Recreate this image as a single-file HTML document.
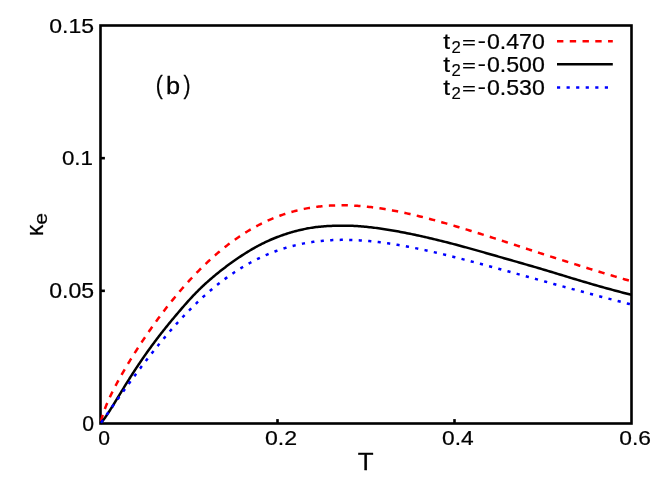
<!DOCTYPE html>
<html lang="en">
<head>
<meta charset="utf-8">
<title>Thermal conductivity vs temperature</title>
<style>
html,body{margin:0;padding:0;background:#fff;}
body{width:664px;height:498px;overflow:hidden;font-family:"Liberation Sans",sans-serif;}
svg{display:block;}
svg text{font-family:"Liberation Sans",sans-serif;font-size:20px;fill:#000;stroke:#000;stroke-width:0.22px;stroke-linejoin:round;}
</style>
</head>
<body>
<svg width="664" height="498" viewBox="0 0 664 498">
<rect x="0" y="0" width="664" height="498" fill="#fff"/>
<rect x="100.50" y="25.50" width="531.00" height="398.00" fill="none" stroke="#000" stroke-width="2.6" stroke-linejoin="miter"/>
<g stroke="#000" stroke-width="2.6" fill="none" stroke-linecap="butt">
<line x1="277.50" y1="423.50" x2="277.50" y2="419.10"/>
<line x1="454.50" y1="423.50" x2="454.50" y2="419.10"/>
<line x1="100.50" y1="290.83" x2="104.90" y2="290.83"/>
<line x1="100.50" y1="158.17" x2="104.90" y2="158.17"/>
</g>
<g fill="none" stroke-linejoin="round" stroke-linecap="butt" stroke-width="2.5">
<path stroke="#ff0000" stroke-dasharray="6.34 6.34" stroke-dashoffset="-2.515" d="M100.50 423.50 L100.50 423.49 L100.51 423.46 L100.52 423.41 L100.53 423.35 L100.55 423.26 L100.58 423.16 L100.60 423.03 L100.64 422.89 L100.67 422.73 L100.71 422.56 L100.76 422.37 L100.81 422.16 L100.86 421.93 L100.92 421.69 L100.98 421.43 L101.05 421.16 L101.12 420.88 L101.19 420.58 L101.27 420.27 L101.35 419.95 L101.44 419.61 L101.53 419.26 L101.63 418.90 L101.73 418.54 L101.83 418.16 L101.94 417.77 L102.05 417.37 L102.17 416.97 L102.29 416.55 L102.42 416.13 L102.55 415.70 L102.68 415.26 L102.82 414.82 L102.97 414.37 L103.11 413.91 L103.26 413.44 L103.42 412.97 L103.58 412.50 L103.74 412.02 L103.91 411.53 L104.08 411.04 L104.26 410.54 L104.44 410.04 L104.63 409.54 L104.82 409.03 L105.01 408.51 L105.21 407.99 L105.41 407.47 L105.62 406.94 L105.83 406.40 L106.05 405.87 L106.27 405.32 L106.49 404.78 L106.72 404.23 L106.95 403.67 L107.19 403.12 L107.43 402.55 L107.67 401.99 L107.92 401.42 L108.18 400.84 L108.44 400.26 L108.70 399.68 L108.96 399.09 L109.23 398.50 L109.51 397.90 L109.79 397.30 L110.07 396.70 L110.36 396.09 L110.65 395.48 L110.95 394.86 L111.25 394.24 L111.55 393.62 L111.86 392.99 L112.18 392.35 L112.50 391.72 L112.82 391.07 L113.14 390.43 L113.47 389.78 L113.81 389.12 L114.15 388.46 L114.49 387.80 L114.84 387.13 L115.19 386.46 L115.55 385.78 L115.91 385.10 L116.27 384.41 L116.64 383.72 L117.01 383.03 L117.39 382.33 L117.77 381.63 L118.16 380.92 L118.55 380.21 L118.94 379.49 L119.34 378.77 L119.75 378.05 L120.15 377.32 L120.56 376.59 L120.98 375.85 L121.40 375.11 L121.83 374.36 L122.25 373.61 L122.69 372.85 L123.12 372.10 L123.57 371.33 L124.01 370.57 L124.46 369.79 L124.92 369.02 L125.37 368.24 L125.84 367.45 L126.30 366.67 L126.77 365.87 L127.25 365.08 L127.73 364.28 L128.21 363.47 L128.70 362.67 L129.20 361.85 L129.69 361.04 L130.19 360.22 L130.70 359.40 L131.21 358.57 L131.72 357.74 L132.24 356.90 L132.76 356.06 L133.29 355.22 L133.82 354.38 L134.36 353.53 L134.90 352.67 L135.44 351.82 L135.99 350.96 L136.54 350.10 L137.10 349.23 L137.66 348.36 L138.22 347.49 L138.79 346.61 L139.37 345.73 L139.94 344.85 L140.53 343.96 L141.11 343.07 L141.70 342.18 L142.30 341.29 L142.90 340.39 L143.50 339.49 L144.11 338.58 L144.72 337.68 L145.34 336.77 L145.96 335.86 L146.58 334.94 L147.21 334.03 L147.84 333.11 L148.48 332.19 L149.12 331.26 L149.77 330.34 L150.42 329.41 L151.07 328.48 L151.73 327.54 L152.40 326.61 L153.06 325.67 L153.74 324.73 L154.41 323.79 L155.09 322.85 L155.78 321.91 L156.47 320.96 L157.16 320.01 L157.86 319.06 L158.56 318.11 L159.26 317.16 L159.97 316.21 L160.69 315.25 L161.41 314.30 L162.13 313.34 L162.86 312.38 L163.59 311.42 L164.32 310.46 L165.06 309.50 L165.81 308.54 L166.56 307.58 L167.31 306.61 L168.07 305.65 L168.83 304.68 L169.59 303.72 L170.36 302.75 L171.14 301.79 L171.92 300.82 L172.70 299.86 L173.49 298.89 L174.28 297.93 L175.07 296.96 L175.87 296.00 L176.68 295.03 L177.48 294.07 L178.30 293.10 L179.11 292.14 L179.93 291.18 L180.76 290.22 L181.59 289.26 L182.42 288.30 L183.26 287.34 L184.10 286.38 L184.95 285.42 L185.80 284.47 L186.66 283.51 L187.52 282.56 L188.38 281.61 L189.25 280.66 L190.12 279.71 L191.00 278.76 L191.88 277.82 L192.76 276.88 L193.65 275.94 L194.54 275.00 L195.44 274.07 L196.34 273.13 L197.25 272.20 L198.16 271.27 L199.08 270.35 L199.99 269.43 L200.92 268.51 L201.85 267.59 L202.78 266.68 L203.71 265.77 L204.65 264.86 L205.60 263.96 L206.55 263.06 L207.50 262.16 L208.46 261.27 L209.42 260.38 L210.39 259.49 L211.36 258.61 L212.33 257.73 L213.31 256.86 L214.29 255.99 L215.28 255.13 L216.27 254.27 L217.27 253.41 L218.27 252.56 L219.27 251.72 L220.28 250.87 L221.29 250.04 L222.31 249.21 L223.33 248.38 L224.36 247.56 L225.39 246.75 L226.42 245.94 L227.46 245.13 L228.50 244.33 L229.55 243.54 L230.60 242.75 L231.66 241.97 L232.72 241.20 L233.78 240.43 L234.85 239.67 L235.92 238.91 L237.00 238.16 L238.08 237.42 L239.17 236.68 L240.26 235.95 L241.35 235.23 L242.45 234.51 L243.55 233.80 L244.66 233.10 L245.77 232.40 L246.88 231.72 L248.00 231.03 L249.13 230.36 L250.26 229.70 L251.39 229.04 L252.53 228.39 L253.67 227.75 L254.81 227.11 L255.96 226.48 L257.11 225.86 L258.27 225.25 L259.43 224.65 L260.60 224.06 L261.77 223.47 L262.95 222.89 L264.13 222.32 L265.31 221.76 L266.50 221.21 L267.69 220.66 L268.89 220.13 L270.09 219.60 L271.29 219.09 L272.50 218.58 L273.71 218.08 L274.93 217.59 L276.15 217.10 L277.38 216.63 L278.61 216.17 L279.85 215.71 L281.08 215.27 L282.33 214.83 L283.57 214.41 L284.83 213.99 L286.08 213.58 L287.34 213.19 L288.61 212.80 L289.88 212.42 L291.15 212.05 L292.43 211.69 L293.71 211.34 L294.99 211.00 L296.28 210.67 L297.58 210.35 L298.88 210.04 L300.18 209.73 L301.49 209.44 L302.80 209.16 L304.12 208.89 L305.44 208.63 L306.76 208.38 L308.09 208.13 L309.42 207.90 L310.76 207.68 L312.10 207.47 L313.45 207.26 L314.79 207.07 L316.15 206.89 L317.51 206.72 L318.87 206.55 L320.24 206.40 L321.61 206.26 L322.98 206.12 L324.36 206.00 L325.75 205.89 L327.14 205.78 L328.53 205.69 L329.93 205.61 L331.33 205.53 L332.73 205.47 L334.14 205.41 L335.56 205.37 L336.97 205.33 L338.40 205.31 L339.82 205.29 L341.25 205.28 L342.69 205.29 L344.13 205.30 L345.57 205.32 L347.02 205.35 L348.47 205.39 L349.93 205.44 L351.39 205.50 L352.85 205.57 L354.32 205.65 L355.80 205.74 L357.27 205.83 L358.76 205.94 L360.24 206.05 L361.73 206.18 L363.23 206.31 L364.73 206.45 L366.23 206.60 L367.74 206.76 L369.25 206.93 L370.77 207.10 L372.29 207.29 L373.81 207.48 L375.34 207.68 L376.87 207.89 L378.41 208.11 L379.95 208.33 L381.50 208.57 L383.05 208.81 L384.61 209.06 L386.16 209.32 L387.73 209.58 L389.29 209.86 L390.87 210.14 L392.44 210.43 L394.02 210.72 L395.61 211.03 L397.20 211.34 L398.79 211.66 L400.39 211.98 L401.99 212.31 L403.59 212.65 L405.20 213.00 L406.82 213.35 L408.44 213.71 L410.06 214.08 L411.69 214.45 L413.32 214.83 L414.95 215.22 L416.59 215.61 L418.24 216.01 L419.89 216.42 L421.54 216.83 L423.20 217.24 L424.86 217.67 L426.52 218.10 L428.19 218.53 L429.87 218.97 L431.54 219.42 L433.23 219.87 L434.91 220.32 L436.60 220.79 L438.30 221.25 L440.00 221.72 L441.70 222.20 L443.41 222.68 L445.12 223.17 L446.84 223.66 L448.56 224.16 L450.29 224.66 L452.02 225.16 L453.75 225.67 L455.49 226.19 L457.23 226.71 L458.98 227.23 L460.73 227.76 L462.48 228.29 L464.24 228.82 L466.01 229.36 L467.77 229.90 L469.55 230.45 L471.32 230.99 L473.10 231.55 L474.89 232.10 L476.68 232.66 L478.47 233.22 L480.27 233.79 L482.07 234.36 L483.88 234.93 L485.69 235.50 L487.50 236.08 L489.32 236.66 L491.14 237.24 L492.97 237.83 L494.80 238.42 L496.64 239.00 L498.48 239.60 L500.32 240.19 L502.17 240.79 L504.03 241.39 L505.88 241.99 L507.75 242.59 L509.61 243.20 L511.48 243.80 L513.36 244.41 L515.23 245.02 L517.12 245.63 L519.01 246.25 L520.90 246.86 L522.79 247.48 L524.69 248.09 L526.60 248.71 L528.51 249.33 L530.42 249.95 L532.34 250.58 L534.26 251.20 L536.18 251.82 L538.11 252.45 L540.05 253.08 L541.99 253.70 L543.93 254.33 L545.87 254.96 L547.83 255.59 L549.78 256.22 L551.74 256.85 L553.71 257.48 L555.67 258.11 L557.65 258.74 L559.62 259.37 L561.60 260.00 L563.59 260.63 L565.58 261.26 L567.57 261.90 L569.57 262.53 L571.57 263.16 L573.58 263.79 L575.59 264.42 L577.61 265.06 L579.63 265.69 L581.65 266.32 L583.68 266.95 L585.71 267.58 L587.75 268.21 L589.79 268.84 L591.83 269.47 L593.88 270.10 L595.94 270.73 L597.99 271.35 L600.06 271.98 L602.12 272.61 L604.19 273.23 L606.27 273.86 L608.35 274.48 L610.43 275.11 L612.52 275.73 L614.61 276.35 L616.71 276.97 L618.81 277.59 L620.91 278.21 L623.02 278.83 L625.13 279.45 L627.25 280.06 L629.37 280.68 L631.50 281.29"/>
<path stroke="#000000" d="M100.50 423.50 L100.50 423.50 L100.51 423.49 L100.52 423.48 L100.53 423.46 L100.55 423.44 L100.58 423.41 L100.60 423.38 L100.64 423.34 L100.67 423.30 L100.71 423.25 L100.76 423.20 L100.81 423.15 L100.86 423.08 L100.92 423.02 L100.98 422.94 L101.05 422.87 L101.12 422.78 L101.19 422.69 L101.27 422.60 L101.35 422.50 L101.44 422.40 L101.53 422.28 L101.63 422.17 L101.73 422.04 L101.83 421.92 L101.94 421.78 L102.05 421.64 L102.17 421.49 L102.29 421.34 L102.42 421.18 L102.55 421.02 L102.68 420.84 L102.82 420.66 L102.97 420.48 L103.11 420.28 L103.26 420.08 L103.42 419.88 L103.58 419.66 L103.74 419.44 L103.91 419.22 L104.08 418.98 L104.26 418.74 L104.44 418.49 L104.63 418.23 L104.82 417.96 L105.01 417.69 L105.21 417.41 L105.41 417.12 L105.62 416.82 L105.83 416.52 L106.05 416.21 L106.27 415.89 L106.49 415.56 L106.72 415.22 L106.95 414.87 L107.19 414.52 L107.43 414.16 L107.67 413.79 L107.92 413.41 L108.18 413.02 L108.44 412.63 L108.70 412.22 L108.96 411.81 L109.23 411.39 L109.51 410.96 L109.79 410.53 L110.07 410.08 L110.36 409.63 L110.65 409.16 L110.95 408.69 L111.25 408.21 L111.55 407.73 L111.86 407.23 L112.18 406.73 L112.50 406.22 L112.82 405.70 L113.14 405.17 L113.47 404.63 L113.81 404.09 L114.15 403.54 L114.49 402.98 L114.84 402.41 L115.19 401.84 L115.55 401.26 L115.91 400.67 L116.27 400.07 L116.64 399.46 L117.01 398.85 L117.39 398.23 L117.77 397.61 L118.16 396.97 L118.55 396.33 L118.94 395.69 L119.34 395.03 L119.75 394.37 L120.15 393.70 L120.56 393.03 L120.98 392.35 L121.40 391.66 L121.83 390.96 L122.25 390.26 L122.69 389.56 L123.12 388.84 L123.57 388.13 L124.01 387.40 L124.46 386.67 L124.92 385.93 L125.37 385.19 L125.84 384.44 L126.30 383.69 L126.77 382.93 L127.25 382.17 L127.73 381.40 L128.21 380.63 L128.70 379.85 L129.20 379.07 L129.69 378.28 L130.19 377.49 L130.70 376.69 L131.21 375.89 L131.72 375.09 L132.24 374.28 L132.76 373.46 L133.29 372.65 L133.82 371.83 L134.36 371.00 L134.90 370.17 L135.44 369.34 L135.99 368.51 L136.54 367.67 L137.10 366.83 L137.66 365.99 L138.22 365.14 L138.79 364.29 L139.37 363.43 L139.94 362.58 L140.53 361.72 L141.11 360.86 L141.70 359.99 L142.30 359.12 L142.90 358.25 L143.50 357.38 L144.11 356.51 L144.72 355.63 L145.34 354.75 L145.96 353.87 L146.58 352.98 L147.21 352.10 L147.84 351.21 L148.48 350.32 L149.12 349.43 L149.77 348.53 L150.42 347.64 L151.07 346.74 L151.73 345.84 L152.40 344.94 L153.06 344.04 L153.74 343.14 L154.41 342.23 L155.09 341.32 L155.78 340.41 L156.47 339.50 L157.16 338.59 L157.86 337.68 L158.56 336.77 L159.26 335.85 L159.97 334.93 L160.69 334.02 L161.41 333.10 L162.13 332.18 L162.86 331.25 L163.59 330.33 L164.32 329.41 L165.06 328.48 L165.81 327.55 L166.56 326.62 L167.31 325.69 L168.07 324.76 L168.83 323.83 L169.59 322.89 L170.36 321.95 L171.14 321.01 L171.92 320.07 L172.70 319.13 L173.49 318.19 L174.28 317.24 L175.07 316.29 L175.87 315.34 L176.68 314.39 L177.48 313.44 L178.30 312.49 L179.11 311.53 L179.93 310.57 L180.76 309.61 L181.59 308.65 L182.42 307.69 L183.26 306.73 L184.10 305.77 L184.95 304.80 L185.80 303.84 L186.66 302.88 L187.52 301.91 L188.38 300.95 L189.25 299.99 L190.12 299.03 L191.00 298.08 L191.88 297.12 L192.76 296.17 L193.65 295.23 L194.54 294.29 L195.44 293.36 L196.34 292.43 L197.25 291.51 L198.16 290.59 L199.08 289.69 L199.99 288.78 L200.92 287.89 L201.85 287.00 L202.78 286.12 L203.71 285.25 L204.65 284.38 L205.60 283.52 L206.55 282.66 L207.50 281.81 L208.46 280.96 L209.42 280.11 L210.39 279.27 L211.36 278.44 L212.33 277.61 L213.31 276.78 L214.29 275.95 L215.28 275.13 L216.27 274.32 L217.27 273.51 L218.27 272.70 L219.27 271.89 L220.28 271.09 L221.29 270.30 L222.31 269.50 L223.33 268.72 L224.36 267.93 L225.39 267.15 L226.42 266.37 L227.46 265.60 L228.50 264.83 L229.55 264.06 L230.60 263.30 L231.66 262.54 L232.72 261.78 L233.78 261.03 L234.85 260.28 L235.92 259.53 L237.00 258.79 L238.08 258.06 L239.17 257.32 L240.26 256.60 L241.35 255.87 L242.45 255.15 L243.55 254.44 L244.66 253.73 L245.77 253.03 L246.88 252.33 L248.00 251.64 L249.13 250.96 L250.26 250.28 L251.39 249.61 L252.53 248.94 L253.67 248.29 L254.81 247.64 L255.96 247.00 L257.11 246.36 L258.27 245.74 L259.43 245.12 L260.60 244.52 L261.77 243.92 L262.95 243.33 L264.13 242.76 L265.31 242.19 L266.50 241.63 L267.69 241.08 L268.89 240.54 L270.09 240.01 L271.29 239.49 L272.50 238.98 L273.71 238.48 L274.93 237.99 L276.15 237.51 L277.38 237.03 L278.61 236.57 L279.85 236.11 L281.08 235.66 L282.33 235.22 L283.57 234.79 L284.83 234.37 L286.08 233.95 L287.34 233.55 L288.61 233.15 L289.88 232.76 L291.15 232.39 L292.43 232.02 L293.71 231.66 L294.99 231.31 L296.28 230.97 L297.58 230.64 L298.88 230.32 L300.18 230.01 L301.49 229.71 L302.80 229.42 L304.12 229.14 L305.44 228.86 L306.76 228.60 L308.09 228.35 L309.42 228.12 L310.76 227.89 L312.10 227.68 L313.45 227.48 L314.79 227.29 L316.15 227.11 L317.51 226.95 L318.87 226.80 L320.24 226.66 L321.61 226.54 L322.98 226.42 L324.36 226.31 L325.75 226.21 L327.14 226.12 L328.53 226.04 L329.93 225.97 L331.33 225.90 L332.73 225.84 L334.14 225.79 L335.56 225.74 L336.97 225.71 L338.40 225.68 L339.82 225.65 L341.25 225.64 L342.69 225.63 L344.13 225.64 L345.57 225.65 L347.02 225.67 L348.47 225.70 L349.93 225.74 L351.39 225.79 L352.85 225.85 L354.32 225.92 L355.80 226.00 L357.27 226.09 L358.76 226.19 L360.24 226.30 L361.73 226.41 L363.23 226.54 L364.73 226.68 L366.23 226.83 L367.74 226.98 L369.25 227.14 L370.77 227.32 L372.29 227.49 L373.81 227.68 L375.34 227.88 L376.87 228.08 L378.41 228.29 L379.95 228.50 L381.50 228.72 L383.05 228.95 L384.61 229.19 L386.16 229.43 L387.73 229.68 L389.29 229.93 L390.87 230.20 L392.44 230.46 L394.02 230.74 L395.61 231.02 L397.20 231.31 L398.79 231.60 L400.39 231.90 L401.99 232.21 L403.59 232.52 L405.20 232.83 L406.82 233.15 L408.44 233.48 L410.06 233.81 L411.69 234.15 L413.32 234.49 L414.95 234.83 L416.59 235.18 L418.24 235.54 L419.89 235.90 L421.54 236.27 L423.20 236.64 L424.86 237.02 L426.52 237.40 L428.19 237.78 L429.87 238.17 L431.54 238.57 L433.23 238.97 L434.91 239.37 L436.60 239.78 L438.30 240.19 L440.00 240.61 L441.70 241.03 L443.41 241.46 L445.12 241.89 L446.84 242.32 L448.56 242.76 L450.29 243.21 L452.02 243.66 L453.75 244.11 L455.49 244.57 L457.23 245.03 L458.98 245.49 L460.73 245.96 L462.48 246.44 L464.24 246.92 L466.01 247.40 L467.77 247.89 L469.55 248.38 L471.32 248.87 L473.10 249.37 L474.89 249.87 L476.68 250.37 L478.47 250.88 L480.27 251.39 L482.07 251.90 L483.88 252.42 L485.69 252.93 L487.50 253.45 L489.32 253.97 L491.14 254.50 L492.97 255.02 L494.80 255.54 L496.64 256.07 L498.48 256.60 L500.32 257.13 L502.17 257.66 L504.03 258.19 L505.88 258.72 L507.75 259.25 L509.61 259.78 L511.48 260.31 L513.36 260.85 L515.23 261.38 L517.12 261.92 L519.01 262.46 L520.90 263.00 L522.79 263.54 L524.69 264.09 L526.60 264.63 L528.51 265.18 L530.42 265.74 L532.34 266.29 L534.26 266.85 L536.18 267.42 L538.11 267.98 L540.05 268.56 L541.99 269.13 L543.93 269.71 L545.87 270.29 L547.83 270.88 L549.78 271.47 L551.74 272.06 L553.71 272.65 L555.67 273.25 L557.65 273.85 L559.62 274.45 L561.60 275.06 L563.59 275.66 L565.58 276.27 L567.57 276.88 L569.57 277.48 L571.57 278.09 L573.58 278.70 L575.59 279.31 L577.61 279.91 L579.63 280.52 L581.65 281.12 L583.68 281.72 L585.71 282.32 L587.75 282.92 L589.79 283.52 L591.83 284.11 L593.88 284.70 L595.94 285.28 L597.99 285.87 L600.06 286.45 L602.12 287.03 L604.19 287.61 L606.27 288.18 L608.35 288.75 L610.43 289.32 L612.52 289.89 L614.61 290.46 L616.71 291.02 L618.81 291.58 L620.91 292.13 L623.02 292.69 L625.13 293.24 L627.25 293.78 L629.37 294.33 L631.50 294.86"/>
<path stroke="#0000ff" stroke-dasharray="3.17 6.342" stroke-dashoffset="-1.012" d="M100.50 423.50 L100.50 423.50 L100.51 423.49 L100.52 423.47 L100.53 423.45 L100.55 423.42 L100.58 423.39 L100.60 423.35 L100.64 423.31 L100.67 423.25 L100.71 423.20 L100.76 423.13 L100.81 423.06 L100.86 422.99 L100.92 422.90 L100.98 422.82 L101.05 422.72 L101.12 422.62 L101.19 422.52 L101.27 422.40 L101.35 422.29 L101.44 422.16 L101.53 422.03 L101.63 421.89 L101.73 421.75 L101.83 421.60 L101.94 421.45 L102.05 421.29 L102.17 421.12 L102.29 420.95 L102.42 420.77 L102.55 420.58 L102.68 420.39 L102.82 420.19 L102.97 419.99 L103.11 419.78 L103.26 419.57 L103.42 419.34 L103.58 419.12 L103.74 418.88 L103.91 418.64 L104.08 418.40 L104.26 418.14 L104.44 417.89 L104.63 417.62 L104.82 417.35 L105.01 417.08 L105.21 416.79 L105.41 416.51 L105.62 416.21 L105.83 415.91 L106.05 415.61 L106.27 415.29 L106.49 414.98 L106.72 414.65 L106.95 414.32 L107.19 413.98 L107.43 413.64 L107.67 413.29 L107.92 412.94 L108.18 412.58 L108.44 412.21 L108.70 411.84 L108.96 411.46 L109.23 411.08 L109.51 410.69 L109.79 410.29 L110.07 409.89 L110.36 409.48 L110.65 409.07 L110.95 408.65 L111.25 408.22 L111.55 407.79 L111.86 407.35 L112.18 406.91 L112.50 406.46 L112.82 406.01 L113.14 405.54 L113.47 405.08 L113.81 404.60 L114.15 404.13 L114.49 403.64 L114.84 403.15 L115.19 402.66 L115.55 402.15 L115.91 401.65 L116.27 401.13 L116.64 400.61 L117.01 400.09 L117.39 399.56 L117.77 399.02 L118.16 398.48 L118.55 397.93 L118.94 397.38 L119.34 396.82 L119.75 396.26 L120.15 395.69 L120.56 395.11 L120.98 394.53 L121.40 393.95 L121.83 393.35 L122.25 392.76 L122.69 392.16 L123.12 391.55 L123.57 390.93 L124.01 390.32 L124.46 389.69 L124.92 389.06 L125.37 388.43 L125.84 387.79 L126.30 387.14 L126.77 386.49 L127.25 385.84 L127.73 385.18 L128.21 384.51 L128.70 383.84 L129.20 383.16 L129.69 382.48 L130.19 381.80 L130.70 381.11 L131.21 380.41 L131.72 379.71 L132.24 379.01 L132.76 378.30 L133.29 377.58 L133.82 376.86 L134.36 376.14 L134.90 375.41 L135.44 374.68 L135.99 373.94 L136.54 373.20 L137.10 372.45 L137.66 371.70 L138.22 370.95 L138.79 370.19 L139.37 369.43 L139.94 368.66 L140.53 367.89 L141.11 367.11 L141.70 366.33 L142.30 365.55 L142.90 364.76 L143.50 363.97 L144.11 363.17 L144.72 362.37 L145.34 361.57 L145.96 360.76 L146.58 359.95 L147.21 359.14 L147.84 358.32 L148.48 357.50 L149.12 356.68 L149.77 355.85 L150.42 355.02 L151.07 354.19 L151.73 353.36 L152.40 352.52 L153.06 351.67 L153.74 350.83 L154.41 349.98 L155.09 349.13 L155.78 348.28 L156.47 347.42 L157.16 346.57 L157.86 345.71 L158.56 344.84 L159.26 343.98 L159.97 343.11 L160.69 342.24 L161.41 341.37 L162.13 340.50 L162.86 339.63 L163.59 338.75 L164.32 337.87 L165.06 336.99 L165.81 336.11 L166.56 335.23 L167.31 334.34 L168.07 333.46 L168.83 332.57 L169.59 331.68 L170.36 330.80 L171.14 329.91 L171.92 329.02 L172.70 328.13 L173.49 327.23 L174.28 326.34 L175.07 325.45 L175.87 324.56 L176.68 323.66 L177.48 322.77 L178.30 321.88 L179.11 320.99 L179.93 320.09 L180.76 319.20 L181.59 318.31 L182.42 317.42 L183.26 316.52 L184.10 315.63 L184.95 314.74 L185.80 313.85 L186.66 312.97 L187.52 312.08 L188.38 311.19 L189.25 310.31 L190.12 309.42 L191.00 308.54 L191.88 307.66 L192.76 306.78 L193.65 305.91 L194.54 305.03 L195.44 304.16 L196.34 303.29 L197.25 302.42 L198.16 301.55 L199.08 300.69 L199.99 299.82 L200.92 298.97 L201.85 298.11 L202.78 297.25 L203.71 296.40 L204.65 295.56 L205.60 294.71 L206.55 293.87 L207.50 293.03 L208.46 292.20 L209.42 291.36 L210.39 290.54 L211.36 289.71 L212.33 288.89 L213.31 288.08 L214.29 287.26 L215.28 286.46 L216.27 285.65 L217.27 284.85 L218.27 284.06 L219.27 283.27 L220.28 282.48 L221.29 281.70 L222.31 280.92 L223.33 280.15 L224.36 279.38 L225.39 278.62 L226.42 277.87 L227.46 277.11 L228.50 276.37 L229.55 275.63 L230.60 274.89 L231.66 274.17 L232.72 273.44 L233.78 272.72 L234.85 272.01 L235.92 271.31 L237.00 270.61 L238.08 269.92 L239.17 269.23 L240.26 268.55 L241.35 267.88 L242.45 267.21 L243.55 266.55 L244.66 265.89 L245.77 265.25 L246.88 264.61 L248.00 263.97 L249.13 263.35 L250.26 262.73 L251.39 262.12 L252.53 261.51 L253.67 260.91 L254.81 260.32 L255.96 259.74 L257.11 259.16 L258.27 258.60 L259.43 258.04 L260.60 257.48 L261.77 256.94 L262.95 256.40 L264.13 255.87 L265.31 255.35 L266.50 254.84 L267.69 254.34 L268.89 253.84 L270.09 253.35 L271.29 252.87 L272.50 252.40 L273.71 251.94 L274.93 251.48 L276.15 251.03 L277.38 250.59 L278.61 250.16 L279.85 249.74 L281.08 249.33 L282.33 248.93 L283.57 248.53 L284.83 248.14 L286.08 247.76 L287.34 247.39 L288.61 247.03 L289.88 246.68 L291.15 246.34 L292.43 246.00 L293.71 245.68 L294.99 245.36 L296.28 245.05 L297.58 244.75 L298.88 244.46 L300.18 244.18 L301.49 243.91 L302.80 243.64 L304.12 243.39 L305.44 243.14 L306.76 242.91 L308.09 242.68 L309.42 242.46 L310.76 242.25 L312.10 242.05 L313.45 241.86 L314.79 241.67 L316.15 241.50 L317.51 241.33 L318.87 241.18 L320.24 241.03 L321.61 240.89 L322.98 240.76 L324.36 240.64 L325.75 240.53 L327.14 240.43 L328.53 240.33 L329.93 240.24 L331.33 240.17 L332.73 240.10 L334.14 240.04 L335.56 239.99 L336.97 239.95 L338.40 239.91 L339.82 239.89 L341.25 239.87 L342.69 239.86 L344.13 239.86 L345.57 239.87 L347.02 239.89 L348.47 239.91 L349.93 239.94 L351.39 239.99 L352.85 240.04 L354.32 240.09 L355.80 240.16 L357.27 240.23 L358.76 240.31 L360.24 240.40 L361.73 240.50 L363.23 240.61 L364.73 240.72 L366.23 240.84 L367.74 240.97 L369.25 241.11 L370.77 241.25 L372.29 241.40 L373.81 241.56 L375.34 241.72 L376.87 241.90 L378.41 242.08 L379.95 242.27 L381.50 242.46 L383.05 242.66 L384.61 242.87 L386.16 243.09 L387.73 243.31 L389.29 243.54 L390.87 243.77 L392.44 244.01 L394.02 244.26 L395.61 244.52 L397.20 244.78 L398.79 245.05 L400.39 245.32 L401.99 245.60 L403.59 245.89 L405.20 246.18 L406.82 246.48 L408.44 246.78 L410.06 247.09 L411.69 247.41 L413.32 247.73 L414.95 248.05 L416.59 248.39 L418.24 248.72 L419.89 249.07 L421.54 249.41 L423.20 249.77 L424.86 250.13 L426.52 250.49 L428.19 250.86 L429.87 251.23 L431.54 251.61 L433.23 251.99 L434.91 252.38 L436.60 252.77 L438.30 253.17 L440.00 253.57 L441.70 253.97 L443.41 254.38 L445.12 254.79 L446.84 255.21 L448.56 255.63 L450.29 256.06 L452.02 256.49 L453.75 256.92 L455.49 257.35 L457.23 257.79 L458.98 258.24 L460.73 258.69 L462.48 259.14 L464.24 259.59 L466.01 260.05 L467.77 260.51 L469.55 260.97 L471.32 261.44 L473.10 261.90 L474.89 262.38 L476.68 262.85 L478.47 263.33 L480.27 263.81 L482.07 264.29 L483.88 264.78 L485.69 265.27 L487.50 265.76 L489.32 266.25 L491.14 266.74 L492.97 267.24 L494.80 267.74 L496.64 268.24 L498.48 268.74 L500.32 269.25 L502.17 269.76 L504.03 270.27 L505.88 270.78 L507.75 271.29 L509.61 271.80 L511.48 272.32 L513.36 272.84 L515.23 273.35 L517.12 273.87 L519.01 274.40 L520.90 274.92 L522.79 275.44 L524.69 275.97 L526.60 276.49 L528.51 277.02 L530.42 277.55 L532.34 278.08 L534.26 278.61 L536.18 279.14 L538.11 279.67 L540.05 280.21 L541.99 280.74 L543.93 281.28 L545.87 281.81 L547.83 282.35 L549.78 282.89 L551.74 283.42 L553.71 283.96 L555.67 284.50 L557.65 285.04 L559.62 285.58 L561.60 286.12 L563.59 286.66 L565.58 287.20 L567.57 287.74 L569.57 288.28 L571.57 288.82 L573.58 289.36 L575.59 289.91 L577.61 290.45 L579.63 290.99 L581.65 291.53 L583.68 292.08 L585.71 292.62 L587.75 293.16 L589.79 293.70 L591.83 294.25 L593.88 294.79 L595.94 295.33 L597.99 295.88 L600.06 296.42 L602.12 296.96 L604.19 297.50 L606.27 298.05 L608.35 298.59 L610.43 299.13 L612.52 299.67 L614.61 300.22 L616.71 300.76 L618.81 301.30 L620.91 301.84 L623.02 302.39 L625.13 302.93 L627.25 303.47 L629.37 304.01 L631.50 304.55"/>
</g>
<g fill="none" stroke-width="2.5" stroke-linecap="butt">
<line x1="557" x2="612.8" y1="41.35" y2="41.35" stroke="#ff0000" stroke-dasharray="6.38 6.38"/>
<line x1="557" x2="612.8" y1="64.3" y2="64.3" stroke="#000000"/>
<line x1="557" x2="612.8" y1="87.45" y2="87.45" stroke="#0000ff" stroke-dasharray="3.19 6.37"/>
</g>
<g opacity="0.999">
<text transform="matrix(1.1521 0.0000 0.0000 1.0155 49.210 32.692)">0.15</text>
<text transform="matrix(1.1165 0.0000 0.0000 1.0508 61.938 165.385)">0.1</text>
<text transform="matrix(1.1521 0.0000 0.0000 1.0579 49.210 298.283)">0.05</text>
<text transform="matrix(1.0648 0.0000 0.0000 1.0579 82.278 431.483)">0</text>
<text transform="matrix(1.0543 0.0000 0.0000 1.0367 98.186 444.988)">0</text>
<text transform="matrix(1.1562 0.0000 0.0000 1.0367 265.007 444.988)">0.2</text>
<text transform="matrix(1.1379 0.0000 0.0000 1.0367 442.021 444.988)">0.4</text>
<text transform="matrix(1.1411 0.0000 0.0000 1.0367 619.269 444.988)">0.6</text>
<text transform="matrix(1.2990 0.0000 0.0000 1.2268 357.676 469.790)">T</text>
<text transform="matrix(0.0000 -1.1265 1.1991 0.0000 42.840 235.908)">κ</text>
<text transform="matrix(0.0000 -1.0634 0.9473 0.0000 47.205 224.693)">e</text>
<text transform="matrix(1.0523 0.0000 0.0000 1.2440 155.705 93.639)">(</text>
<text transform="matrix(1.2653 0.0000 0.0000 1.2106 166.079 94.054)">b</text>
<text transform="matrix(1.0523 0.0000 0.0000 1.2440 183.387 93.639)">)</text>
<text transform="matrix(1.2296 0.0000 0.0000 1.0912 443.138 49.019)">t</text>
<text transform="matrix(0.8374 0.0000 0.0000 0.8400 451.468 53.390)">2</text>
<text transform="matrix(1.1918 0.0000 0.0000 0.8502 461.946 48.046)">=</text>
<text transform="matrix(1.2247 0.0000 0.0000 1.0112 477.822 47.972)">-</text>
<text transform="matrix(1.1566 0.0000 0.0000 1.0579 486.906 49.283)">0.470</text>
<text transform="matrix(1.2296 0.0000 0.0000 1.0912 443.138 72.019)">t</text>
<text transform="matrix(0.8374 0.0000 0.0000 0.8400 451.468 76.390)">2</text>
<text transform="matrix(1.1918 0.0000 0.0000 0.8502 461.946 71.046)">=</text>
<text transform="matrix(1.2247 0.0000 0.0000 1.0112 477.822 70.972)">-</text>
<text transform="matrix(1.1566 0.0000 0.0000 1.0579 486.906 72.283)">0.500</text>
<text transform="matrix(1.2296 0.0000 0.0000 1.0912 443.138 95.019)">t</text>
<text transform="matrix(0.8374 0.0000 0.0000 0.8400 451.468 99.390)">2</text>
<text transform="matrix(1.1918 0.0000 0.0000 0.8502 461.946 94.046)">=</text>
<text transform="matrix(1.2247 0.0000 0.0000 1.0112 477.822 93.972)">-</text>
<text transform="matrix(1.1566 0.0000 0.0000 1.0579 486.906 95.283)">0.530</text>
</g>
</svg>
</body>
</html>
